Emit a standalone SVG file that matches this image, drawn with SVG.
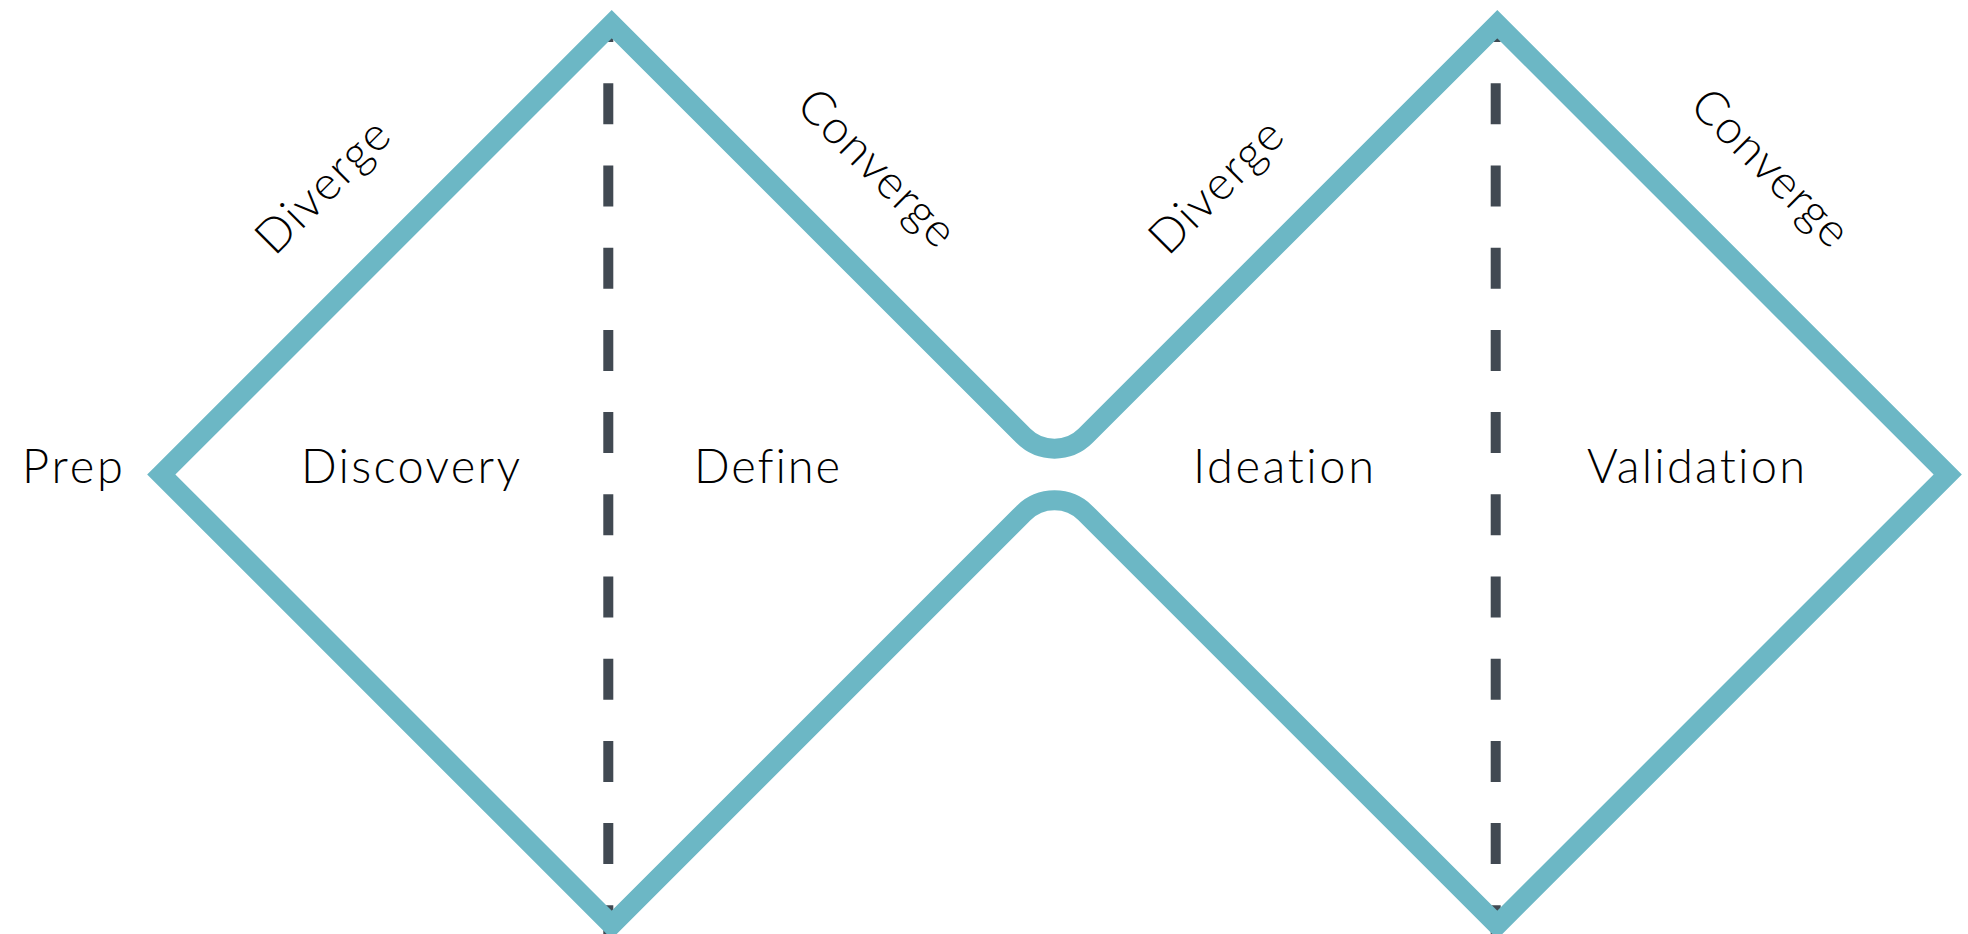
<svg xmlns="http://www.w3.org/2000/svg" width="1968" height="934" viewBox="0 0 1968 934">
  <style>
    .outline { fill: none; stroke: #6cb7c5; stroke-width: 20; stroke-linejoin: miter; stroke-miterlimit: 10; }
    .divider { stroke: #414952; stroke-width: 10; stroke-dasharray: 41 41.2; stroke-dashoffset: 18.9; fill: none; }
    .label { font-family: Lato, "Liberation Sans", sans-serif; font-weight: 300; font-size: 47px; fill: #000000; font-variant-ligatures: none; font-feature-settings: "liga" 0, "clig" 0; }
  </style>
  <rect width="1968" height="934" fill="#ffffff"/>
  <g id="connectors">
    <line class="divider" x1="608.3" y1="20" x2="608.3" y2="934"/>
    <line class="divider" x1="1495.7" y1="20" x2="1495.7" y2="934"/>
    <path id="double-diamond" class="outline" d="M161.3,474.5 L611.7,24.1 L1023.4,435.8 A44,44 0 0 0 1085.6,435.8 L1497.3,24.1 L1947.7,474.5 L1497.3,924.9 L1085.6,513.2 A44,44 0 0 0 1023.4,513.2 L611.7,924.9 Z"/>
  </g>
  <g id="prep"><text class="label" x="22" y="482.7" textLength="101">Prep</text></g>
  <g id="discovery"><text class="label" x="301" y="482.7" textLength="219">Discovery</text></g>
  <g id="define"><text class="label" x="694" y="482.7" textLength="146">Define</text></g>
  <g id="ideation"><text class="label" x="1193" y="482.7" textLength="181">Ideation</text></g>
  <g id="validation"><text class="label" x="1587" y="482.7" textLength="218">Validation</text></g>
  <g id="diverge-1"><text class="label" transform="translate(276.7,255) rotate(-45)" x="-3" y="0" textLength="168">Diverge</text></g>
  <g id="converge-1"><text class="label" transform="translate(796,109) rotate(45)" x="-2" y="0" textLength="202">Converge</text></g>
  <g id="diverge-2"><text class="label" transform="translate(1170,255) rotate(-45)" x="-3" y="0" textLength="168">Diverge</text></g>
  <g id="converge-2"><text class="label" transform="translate(1689.5,109) rotate(45)" x="-2" y="0" textLength="202">Converge</text></g>
</svg>
